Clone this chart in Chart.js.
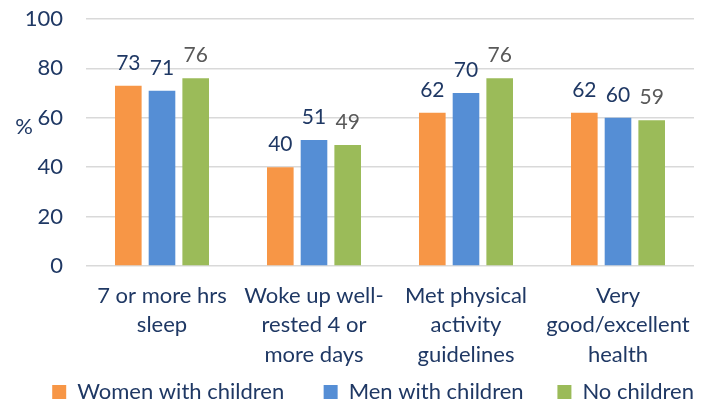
<!DOCTYPE html>
<html>
<head>
<meta charset="utf-8">
<script src="https://cdn.jsdelivr.net/npm/chart.js@4.4.0/dist/chart.umd.min.js"></script>
<style>
  html, body { margin: 0; padding: 0; background: #fff; }
  #wrap { width: 706px; height: 408px; }
</style>
</head>
<body>
<div id="wrap"><canvas id="chart"></canvas></div>
<script>
// Chart data
const categories = [
  ['7 or more hrs', 'sleep'],
  ['Woke up well-', 'rested 4 or', 'more days'],
  ['Met physical', 'activity', 'guidelines'],
  ['Very', 'good/excellent', 'health'],
];
const seriesNames = ['Women with children', 'Men with children', 'No children'];
const womenWithChildren = [73, 40, 62, 62];
const menWithChildren = [71, 51, 70, 60];
const noChildren = [76, 49, 76, 59];
const yTicks = [0, 20, 40, 60, 80, 100];

const NAVY = '#1f3864';
const FONT = "Lato, 'Open Sans', sans-serif";
const COLORS = ['#f79646', '#558ed5', '#9bbb59'];
const LABEL_COLORS = [NAVY, NAVY, '#595959'];
// extra trailing space per legend entry, to spread them like the original
const LEGEND_GAPS = ['       ', '      ', ''];

// Draws value labels above bars and the "%" axis caption
const valueLabels = {
  id: 'valueLabels',
  afterDatasetsDraw(chart) {
    const { ctx } = chart;
    ctx.save();
    ctx.font = `21px ${FONT}`;
    ctx.textAlign = 'center';
    ctx.textBaseline = 'alphabetic';
    chart.data.datasets.forEach((ds, i) => {
      ctx.fillStyle = LABEL_COLORS[i];
      chart.getDatasetMeta(i).data.forEach((bar, j) => {
        ctx.fillText(ds.data[j], bar.x, bar.y - 16);
      });
    });
    const y = chart.scales.y;
    ctx.font = `22px ${FONT}`;
    ctx.fillStyle = NAVY;
    ctx.fillText('%', 24, y.getPixelForValue(56) + 6);
    ctx.restore();
  },
};

new Chart(document.getElementById('chart'), {
  type: 'bar',
  data: {
    labels: categories,
    datasets: [
      { label: seriesNames[0], data: womenWithChildren, backgroundColor: COLORS[0] },
      { label: seriesNames[1], data: menWithChildren, backgroundColor: COLORS[1] },
      { label: seriesNames[2], data: noChildren, backgroundColor: COLORS[2] },
    ],
  },
  options: {
    responsive: true,
    maintainAspectRatio: false,
    animation: false,
    categoryPercentage: 0.665,
    barPercentage: 0.79,
    layout: { padding: { top: 0, right: 12, left: 0, bottom: -5 } },
    plugins: {
      legend: {
        position: 'bottom',
        align: 'end',
        labels: {
          color: NAVY,
          font: { family: FONT, size: 22 },
          boxWidth: 14,
          boxHeight: 14,
          padding: 0,
          generateLabels: (chart) => {
            const items = Chart.defaults.plugins.legend.labels.generateLabels(chart);
            items.forEach((it, i) => { it.text = it.text + LEGEND_GAPS[i]; });
            return items;
          },
        },
      },
      tooltip: { enabled: false },
    },
    scales: {
      x: {
        grid: { display: false },
        border: { display: false },
        afterFit: (axis) => { axis.height = 115; },
        ticks: {
          color: NAVY,
          font: { family: FONT, size: 22, lineHeight: 1.34 },
          maxRotation: 0,
          autoSkip: false,
          padding: 7,
        },
      },
      y: {
        min: 0,
        max: 100,
        afterBuildTicks: (axis) => { axis.ticks = yTicks.map(v => ({ value: v })); },
        afterFit: (axis) => {
          axis.width = 86;
          axis.paddingTop = 19;
          axis.paddingBottom = 12;
        },
        grid: { color: '#d9d9d9', lineWidth: 1.5, drawTicks: false },
        border: { display: false },
        ticks: {
          color: NAVY,
          font: { family: FONT, size: 22 },
          padding: 23,
        },
      },
    },
  },
  plugins: [valueLabels],
});
</script>
</body>
</html>
